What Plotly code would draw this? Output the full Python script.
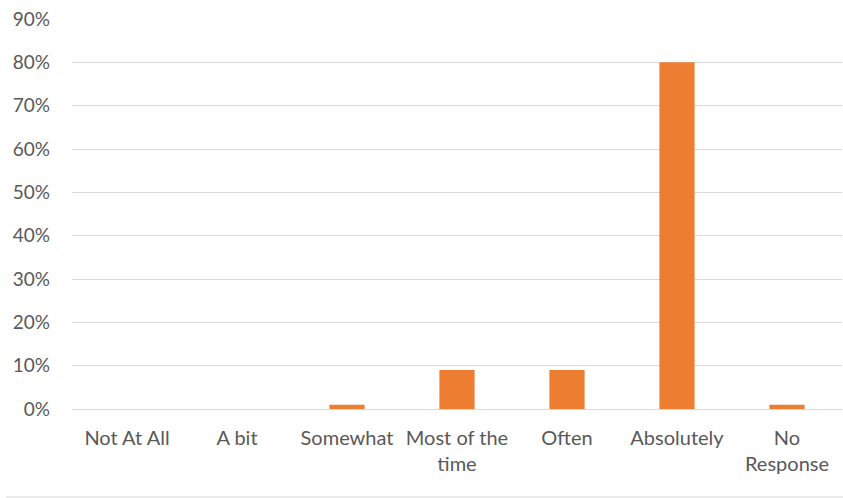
import plotly.graph_objects as go

categories = ["Not At All", "A bit", "Somewhat", "Most of the<br>time", "Often", "Absolutely", "No<br>Response"]
values = [0.0, 0.0, 0.01, 0.09, 0.09, 0.80, 0.01]
y_ticks = [0, 0.1, 0.2, 0.3, 0.4, 0.5, 0.6, 0.7, 0.8, 0.9]

W, H = 843, 498
L, R, T, B = 72, 1, 19, 89

fig = go.Figure(go.Bar(x=categories, y=values, marker=dict(color="#ED7D31", line=dict(width=0))))

fam = "Lato, Liberation Sans, sans-serif"
yfont = dict(family=fam, size=19, color="#595959")
xfont = dict(family=fam, size=20, color="#595959")
fig.update_layout(
    width=W, height=H,
    margin=dict(l=L, r=R, t=T, b=B, pad=0),
    paper_bgcolor="white", plot_bgcolor="white",
    bargap=0.68,
    showlegend=False,
    font=yfont,
)
fig.update_yaxes(range=[0, 0.9], tickvals=y_ticks, tickformat=".0%",
                 showgrid=True, gridcolor="#D9D9D9", gridwidth=1,
                 zeroline=True, zerolinecolor="#D9D9D9", zerolinewidth=1,
                 showline=False, ticks="", ticklabelstandoff=21, tickfont=yfont)
fig.update_xaxes(showgrid=False, showline=False, ticks="", ticklabelstandoff=15, tickfont=xfont,
                 tickangle=0)

# chart outer border line at bottom
ph = H - T - B
pw = W - L - R
yb = -(497 - (H - B)) / ph
fig.add_shape(type="line", xref="paper", yref="paper",
              x0=(6 - L) / pw, x1=(W - L) / pw, y0=yb, y1=yb,
              line=dict(color="#D9D9D9", width=1))

fig.write_html("out.html")
